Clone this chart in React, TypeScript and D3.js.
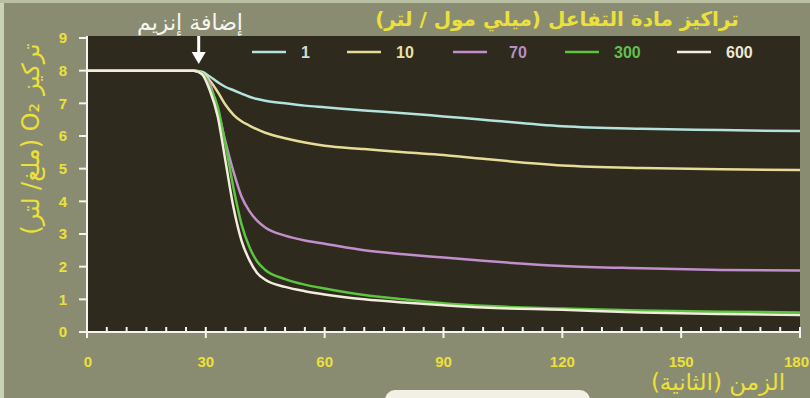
import React from "react";
import * as d3 from "d3";

const times = [0, 10, 20, 27, 29, 31, 33, 35, 37, 39, 41, 43, 45, 50, 55, 60, 70, 80, 90, 100, 120, 140, 160, 180];
const s1 = [8, 8, 8, 8, 7.97, 7.82, 7.65, 7.5, 7.4, 7.3, 7.2, 7.13, 7.08, 7.0, 6.93, 6.88, 6.78, 6.7, 6.6, 6.5, 6.3, 6.22, 6.18, 6.15];
const s10 = [8, 8, 8, 8, 7.93, 7.7, 7.35, 6.95, 6.65, 6.45, 6.32, 6.2, 6.1, 5.93, 5.8, 5.7, 5.6, 5.5, 5.42, 5.3, 5.1, 5.02, 4.98, 4.96];
const s70 = [8, 8, 8, 8, 7.9, 7.6, 6.8, 5.8, 4.9, 4.15, 3.7, 3.4, 3.2, 2.95, 2.8, 2.7, 2.5, 2.38, 2.28, 2.18, 2.02, 1.95, 1.9, 1.88];
const s300 = [8, 8, 8, 8, 7.92, 7.5, 6.9, 5.7, 4.4, 3.3, 2.6, 2.15, 1.9, 1.62, 1.45, 1.33, 1.13, 1.0, 0.88, 0.8, 0.72, 0.66, 0.62, 0.6];
const s600 = [8, 8, 8, 8, 7.9, 7.4, 6.6, 5.2, 3.8, 2.8, 2.2, 1.8, 1.6, 1.38, 1.25, 1.15, 1.0, 0.9, 0.82, 0.75, 0.68, 0.6, 0.55, 0.52];

const seriesLabels = ["1", "10", "70", "300", "600"];
const seriesValues = [s1, s10, s70, s300, s600];
const lineColors = ["#b4e2dc", "#e6dc98", "#c28fcc", "#5cc43e", "#f2ecdc"];
const textColors = ["#d4dcd4", "#e8e0a8", "#b690c2", "#62c04c", "#eee6d4"];

const xTicks = [0, 30, 60, 90, 120, 150, 180];
const yTicks = [0, 1, 2, 3, 4, 5, 6, 7, 8, 9];

const yTitle = "تركيز O₂ (ملغ/ لتر)";
const xTitle = "الزمن (الثانية)";
const legendTitle = "تراكيز مادة التفاعل (ميلي مول / لتر)";
const enzymeLabel = "إضافة إنزيم";
const enzymeTime = 28.2;

export default function App() {
  const W = 810, H = 398;
  const x = d3.scaleLinear().domain([0, 180]).range([87, 800]);
  const y = d3.scaleLinear().domain([0, 9]).range([332, 38]);
  const line = d3.line<[number, number]>().x(d => x(d[0])).y(d => y(d[1])).curve(d3.curveMonotoneX);
  const minor = d3.range(0, 181, 5);
  const yellow = "#ece03a";
  const arabicFont = "'DejaVu Sans', sans-serif";
  const numFont = "'Liberation Sans', Arial, sans-serif";
  const legendLineX = [252, 347, 453, 565, 677];
  const ax = x(enzymeTime);

  return (
    <svg width={W} height={H} style={{ position: "absolute", left: 0, top: 0 }}>
      <rect x={0} y={0} width={W} height={H} fill="#898c71" />
      <rect x={0} y={0} width={4} height={H} fill="#c9d2b4" />
      <rect x={0} y={0} width={W} height={3} fill="#b8bfa2" />
      <rect x={x(0)} y={36} width={x(180) - x(0)} height={y(0) - 36} fill="#2e2a1e" />
      <rect x={385} y={390} width={205} height={20} rx={10} fill="#f2efe4" />

      {/* curves */}
      {seriesValues.map((vals, i) => (
        <path key={"c" + i} d={line(times.map((t, j) => [t, vals[j]]) as [number, number][]) || ""}
          fill="none" stroke={lineColors[i]} strokeWidth={2.5} strokeLinejoin="round" />
      ))}

      {/* axes */}
      <line x1={x(0)} x2={x(0)} y1={36} y2={338} stroke="#f4f4ee" strokeWidth={2} />
      <line x1={80} x2={x(180)} y1={y(0)} y2={y(0)} stroke="#f4f4ee" strokeWidth={2} />
      {yTicks.map(t => (
        <g key={"yt" + t}>
          <line x1={79} x2={x(0)} y1={y(t)} y2={y(t)} stroke="#f4f4ee" strokeWidth={2} />
          <text x={63} y={y(t)} dy="0.36em" textAnchor="middle" fill={yellow} fontFamily={numFont}
            fontWeight="bold" fontSize={15}>{t}</text>
        </g>
      ))}
      {minor.map(t => {
        const major = t % 30 === 0;
        return (
          <line key={"xm" + t} x1={x(t)} x2={x(t)} y1={y(0) - 5} y2={major ? y(0) + 6 : y(0)}
            stroke="#f4f4ee" strokeWidth={2} />
        );
      })}
      {xTicks.map(t => {
        const last = t === 180;
        return (
          <text key={"xt" + t} x={last ? 809 : x(t) + (t === 0 ? 1 : 0)} y={362} dy="0.36em"
            textAnchor={last ? "end" : "middle"} fill={yellow}
            fontFamily={numFont} fontWeight="bold" fontSize={15}>{t}</text>
        );
      })}

      {/* titles */}
      <text transform={`translate(31,139) rotate(-90)`} textAnchor="middle" dy="0.35em" fill={yellow}
        direction="rtl" fontFamily={arabicFont} fontSize={24}>{yTitle}</text>
      <text x={718} y={382} dy="0.35em" textAnchor="middle" fill={yellow} fontFamily={arabicFont}
        direction="rtl" fontSize={23}>{xTitle}</text>
      <text x={557} y={19} dy="0.35em" textAnchor="middle" fill={yellow} fontFamily={arabicFont}
        direction="rtl" fontWeight="bold" fontSize={20}>{legendTitle}</text>
      <text x={190} y={22} dy="0.35em" textAnchor="middle" fill="#f6f6f0" fontFamily={arabicFont}
        direction="rtl" fontSize={22}>{enzymeLabel}</text>

      {/* arrow */}
      <line x1={ax} x2={ax} y1={36} y2={54} stroke="#ffffff" strokeWidth={3} />
      <path d={`M${ax - 7},${52} L${ax + 7},${52} L${ax},${64} Z`} fill="#ffffff" />

      {/* legend */}
      {seriesLabels.map((lab, i) => (
        <g key={"lg" + i}>
          <line x1={legendLineX[i]} x2={legendLineX[i] + 34} y1={52} y2={52} stroke={lineColors[i]} strokeWidth={2.4} />
          <text x={legendLineX[i] + (i === 2 ? 56 : 49)} y={52} dy="0.36em" textAnchor="start" fill={textColors[i]}
            fontFamily={numFont} fontWeight="bold" fontSize={16}>{lab}</text>
        </g>
      ))}
    </svg>
  );
}
